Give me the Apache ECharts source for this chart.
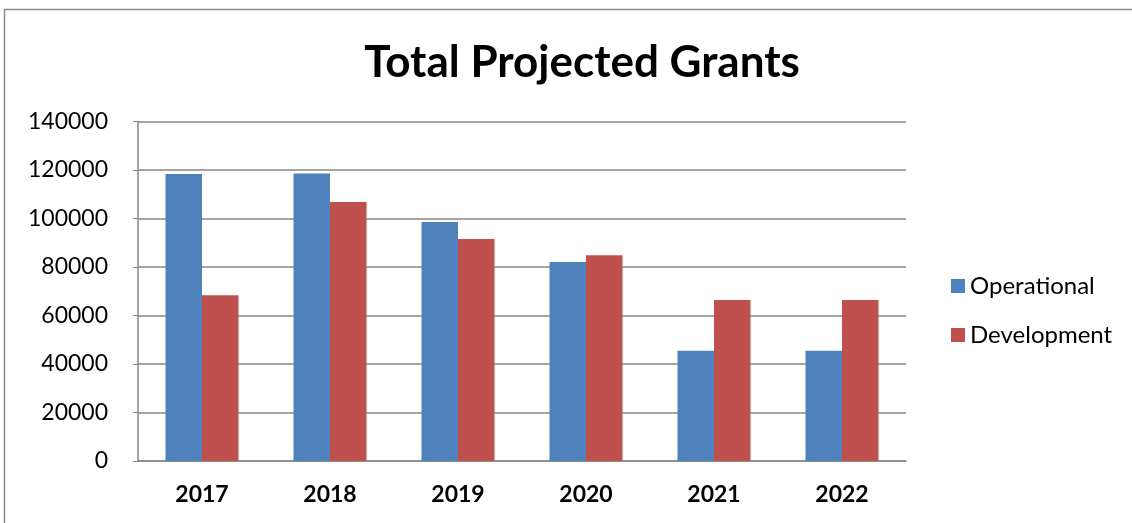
<!DOCTYPE html>
<html>
<head>
<meta charset="utf-8">
<script src="https://cdn.jsdelivr.net/npm/echarts@6/dist/echarts.min.js"></script>
<style>
  html, body { margin: 0; padding: 0; background: #fff; }
  #main { width: 1132px; height: 523px; }
</style>
</head>
<body>
<div id="main"></div>
<script>
// data
const years = ["2017", "2018", "2019", "2020", "2021", "2022"];
const operational = [118400, 118600, 98600, 82100, 45500, 45500];
const development = [68400, 106800, 91500, 84800, 66400, 66400];

const myChart = echarts.init(document.getElementById("main"));
const font = "Lato, 'Open Sans', sans-serif";

myChart.setOption({
  animation: false,
  textStyle: { fontFamily: font },
  title: {
    text: "Total Projected Grants",
    left: 577,
    textAlign: "center",
    top: 36,
    textStyle: { fontSize: 44, fontWeight: "bold", color: "#000", fontFamily: font },
  },
  graphic: [
    {
      type: "rect",
      shape: { x: 4.5, y: 9.5, width: 1200, height: 600 },
      style: { fill: "none", stroke: "#8a8a8a", lineWidth: 1.5 },
    },
  ],
  legend: {
    orient: "vertical",
    left: 946,
    top: 269,
    itemGap: 25,
    itemWidth: 14,
    itemHeight: 14,
    icon: "rect",
    textStyle: { fontSize: 24, color: "#000", fontFamily: font },
    data: ["Operational", "Development"],
  },
  grid: {
    left: 138,
    right: 226,
    top: 121.5,
    bottom: 62,
  },
  xAxis: {
    type: "category",
    data: years,
    axisLine: { lineStyle: { color: "#868686", width: 1.5 } },
    axisTick: { show: false },
    axisLabel: {
      fontSize: 23,
      fontWeight: "bold",
      color: "#000",
      margin: 22,
      fontFamily: font,
    },
  },
  yAxis: {
    type: "value",
    min: 0,
    max: 140000,
    interval: 20000,
    axisLine: { show: true, lineStyle: { color: "#868686", width: 1.5 } },
    axisTick: { show: true, length: 5, lineStyle: { color: "#868686" } },
    splitLine: { lineStyle: { color: "#868686", width: 1.5 } },
    axisLabel: {
      fontSize: 23,
      color: "#000",
      margin: 30,
      fontFamily: font,
      formatter: (v) => String(v),
    },
  },
  series: [
    {
      name: "Operational",
      type: "bar",
      data: operational,
      barWidth: 36.5,
      barGap: "0%",
      itemStyle: { color: "#4F81BD" },
    },
    {
      name: "Development",
      type: "bar",
      data: development,
      barWidth: 36.5,
      barGap: "0%",
      itemStyle: { color: "#C0504D" },
    },
  ],
});
</script>
</body>
</html>
